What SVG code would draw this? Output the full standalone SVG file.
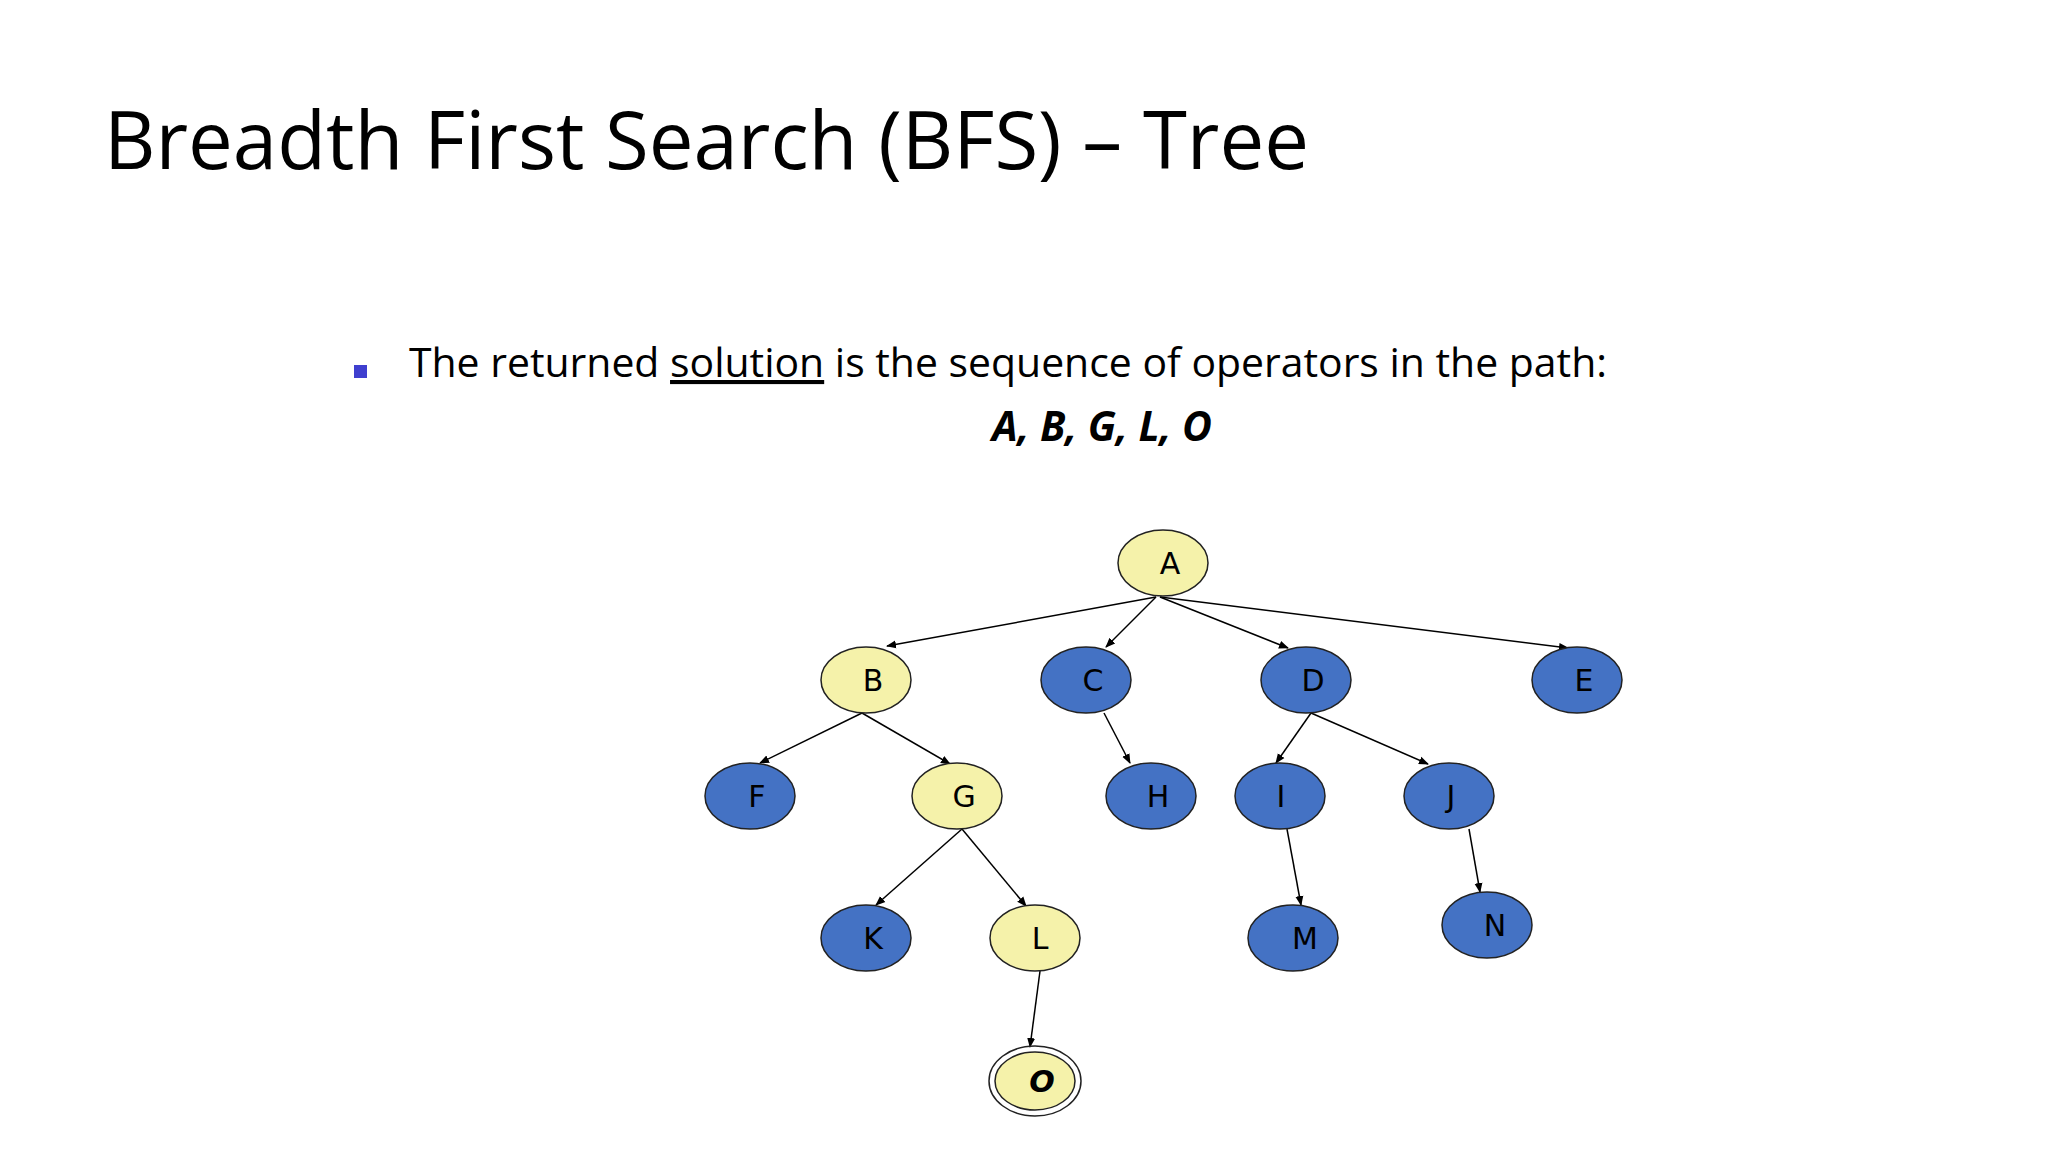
<svg xmlns="http://www.w3.org/2000/svg" width="2048" height="1152" viewBox="0 0 2048 1152">
<style>
.t{font-family:"Open Sans","Liberation Sans",sans-serif;fill:#000}
.y{fill:#F5F2AA;stroke:#222;stroke-width:1.5}
.b{fill:#4472C4;stroke:#222;stroke-width:1.5}
.l{font-family:"DejaVu Sans",Verdana,sans-serif;font-size:30px;text-anchor:middle;fill:#000}
.e{stroke:#000;stroke-width:1.5;fill:none;marker-end:url(#ar)}
</style>
<defs><marker id="ar" markerWidth="10" markerHeight="10" refX="9" refY="5" orient="auto" markerUnits="userSpaceOnUse"><path d="M0,1 L10,5 L0,9 z" fill="#000"/></marker></defs>
<rect width="2048" height="1152" fill="#fff"/>
<text class="t" x="104" y="169" font-size="80" textLength="1205" lengthAdjust="spacingAndGlyphs">Breadth First Search (BFS) – Tree</text>
<rect x="354" y="365" width="13" height="13" fill="#3F3FCF"/>
<text class="t" x="409" y="377" font-size="41" textLength="1198" lengthAdjust="spacingAndGlyphs">The returned <tspan text-decoration="underline">solution</tspan> is the sequence of operators in the path:</text>
<text class="t" x="1102" y="441" font-size="41" font-weight="bold" font-style="italic" text-anchor="middle">A, B, G, L, O</text>
<g id="connectors">
<line class="e" x1="1156" y1="597" x2="887" y2="646"/>
<line class="e" x1="1156" y1="597" x2="1106" y2="647"/>
<line class="e" x1="1160" y1="597" x2="1288" y2="648"/>
<line class="e" x1="1160" y1="597" x2="1568" y2="648"/>
<line class="e" x1="862" y1="713" x2="760" y2="763"/>
<line class="e" x1="862" y1="713" x2="950" y2="764"/>
<line class="e" x1="1104" y1="713" x2="1130" y2="763"/>
<line class="e" x1="1311" y1="713" x2="1276" y2="763"/>
<line class="e" x1="1311" y1="713" x2="1428" y2="764"/>
<line class="e" x1="962" y1="829" x2="876" y2="905"/>
<line class="e" x1="962" y1="829" x2="1026" y2="906"/>
<line class="e" x1="1287" y1="829" x2="1301" y2="905"/>
<line class="e" x1="1469" y1="829" x2="1480" y2="892"/>
<line class="e" x1="1040" y1="971" x2="1030" y2="1047"/>
</g>
<g id="A"><ellipse class="y" cx="1163" cy="563" rx="45" ry="33"/><text class="l" x="1170" y="574">A</text></g>
<g id="B"><ellipse class="y" cx="866" cy="680" rx="45" ry="33"/><text class="l" x="873" y="691">B</text></g>
<g id="C"><ellipse class="b" cx="1086" cy="680" rx="45" ry="33"/><text class="l" x="1093" y="691">C</text></g>
<g id="D"><ellipse class="b" cx="1306" cy="680" rx="45" ry="33"/><text class="l" x="1313" y="691">D</text></g>
<g id="E"><ellipse class="b" cx="1577" cy="680" rx="45" ry="33"/><text class="l" x="1584" y="691">E</text></g>
<g id="F"><ellipse class="b" cx="750" cy="796" rx="45" ry="33"/><text class="l" x="757" y="807">F</text></g>
<g id="G"><ellipse class="y" cx="957" cy="796" rx="45" ry="33"/><text class="l" x="964" y="807">G</text></g>
<g id="H"><ellipse class="b" cx="1151" cy="796" rx="45" ry="33"/><text class="l" x="1158" y="807">H</text></g>
<g id="I"><ellipse class="b" cx="1280" cy="796" rx="45" ry="33"/><text class="l" x="1281" y="807">I</text></g>
<g id="J"><ellipse class="b" cx="1449" cy="796" rx="45" ry="33"/><text class="l" x="1451" y="807">J</text></g>
<g id="K"><ellipse class="b" cx="866" cy="938" rx="45" ry="33"/><text class="l" x="873" y="949">K</text></g>
<g id="L"><ellipse class="y" cx="1035" cy="938" rx="45" ry="33"/><text class="l" x="1040" y="949">L</text></g>
<g id="M"><ellipse class="b" cx="1293" cy="938" rx="45" ry="33"/><text class="l" x="1305" y="949">M</text></g>
<g id="N"><ellipse class="b" cx="1487" cy="925" rx="45" ry="33"/><text class="l" x="1495" y="936">N</text></g>
<g id="O"><ellipse cx="1035" cy="1081" rx="46" ry="35" fill="none" stroke="#222" stroke-width="1.5"/><ellipse class="y" cx="1035" cy="1081" rx="40" ry="29"/><text class="l" x="1042" y="1092" font-weight="bold" font-style="italic">O</text></g>
</svg>
